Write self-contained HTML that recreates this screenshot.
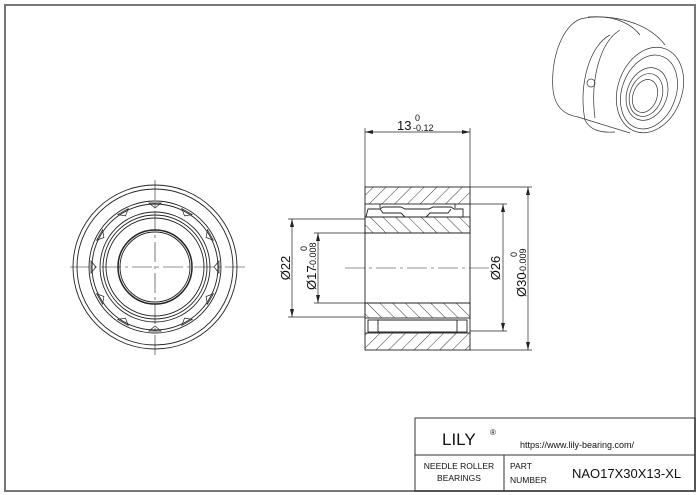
<!DOCTYPE html>
<html><head><meta charset="utf-8"><style>
html,body{margin:0;padding:0;background:#fff}
svg{display:block}
text{font-family:"Liberation Sans",Arial,sans-serif;fill:#111}
</style></head><body>
<svg width="700" height="495" viewBox="0 0 700 495" xmlns="http://www.w3.org/2000/svg">
<defs>
<pattern id="h1" patternUnits="userSpaceOnUse" width="9" height="9" patternTransform="rotate(45)">
<line x1="0" y1="0" x2="0" y2="9" stroke="#222" stroke-width="0.9"/></pattern>
<pattern id="h2" patternUnits="userSpaceOnUse" width="9" height="9" patternTransform="rotate(-45)">
<line x1="0" y1="0" x2="0" y2="9" stroke="#222" stroke-width="0.9"/></pattern>
</defs>
<rect x="5" y="5" width="690" height="486" fill="none" stroke="#777" stroke-width="2"/>

<!-- left view -->
<g fill="none" stroke="#222" stroke-width="0.9">
<circle cx="155" cy="267" r="82"/>
<circle cx="155" cy="267" r="78"/>
<circle cx="155" cy="267" r="66"/>
<circle cx="155" cy="267" r="63"/>
<circle cx="155" cy="267" r="55"/>
<circle cx="155" cy="267" r="52"/>
<circle cx="155" cy="267" r="49"/>
<circle cx="155" cy="267" r="37" stroke-width="1.5"/>
<circle cx="155" cy="267" r="35"/>
<g stroke-width="0.7">
<path d="M155 208 l-6 -5 h12 z" transform="rotate(0 155 267)"/>
<path d="M155 208 l-6 -5 h12 z" transform="rotate(30 155 267)"/>
<path d="M155 208 l-6 -5 h12 z" transform="rotate(60 155 267)"/>
<path d="M155 208 l-6 -5 h12 z" transform="rotate(90 155 267)"/>
<path d="M155 208 l-6 -5 h12 z" transform="rotate(120 155 267)"/>
<path d="M155 208 l-6 -5 h12 z" transform="rotate(150 155 267)"/>
<path d="M155 208 l-6 -5 h12 z" transform="rotate(180 155 267)"/>
<path d="M155 208 l-6 -5 h12 z" transform="rotate(210 155 267)"/>
<path d="M155 208 l-6 -5 h12 z" transform="rotate(240 155 267)"/>
<path d="M155 208 l-6 -5 h12 z" transform="rotate(270 155 267)"/>
<path d="M155 208 l-6 -5 h12 z" transform="rotate(300 155 267)"/>
<path d="M155 208 l-6 -5 h12 z" transform="rotate(330 155 267)"/>
</g>
<line x1="70" y1="267" x2="245" y2="267" stroke-width="0.6" stroke-dasharray="20,4,3,4"/>
<line x1="155" y1="180" x2="155" y2="355" stroke-width="0.6" stroke-dasharray="20,4,3,4"/>
</g>

<!-- section view -->
<g stroke="#222" stroke-width="0.9">
<rect x="365" y="187" width="105" height="17" fill="url(#h1)"/>
<rect x="365" y="333" width="105" height="17" fill="url(#h1)"/>
<rect x="365" y="217" width="105" height="16" fill="url(#h2)"/>
<rect x="365" y="303" width="105" height="15" fill="url(#h2)"/>
<path d="M368 209 h12 l3 -2 h18 l4 2 h24 l4 -2 h18 l3 2 h9 v8 h-97 z M380 209 l3 4 h18 l4 4 M451 209 l-3 4 h-18 l-4 4" fill="none"/>
<line x1="380" y1="204" x2="380" y2="208"/><line x1="455" y1="204" x2="455" y2="208"/>
<rect x="368" y="320" width="10" height="12" fill="none"/>
<rect x="457" y="320" width="10" height="12" fill="none"/>
<line x1="378" y1="320" x2="457" y2="320"/><line x1="378" y1="332" x2="457" y2="332"/>
<line x1="365" y1="204" x2="365" y2="333" fill="none"/>
<line x1="470" y1="204" x2="470" y2="333"/>
<line x1="365" y1="233" x2="470" y2="233"/>
<line x1="365" y1="303" x2="470" y2="303"/>
<line x1="345" y1="268" x2="490" y2="268" stroke-width="0.6" stroke-dasharray="20,4,3,4"/>
</g>

<!-- dimensions -->
<g stroke="#222" stroke-width="0.7" fill="none">
<line x1="365" y1="128" x2="365" y2="187"/><line x1="470" y1="128" x2="470" y2="187"/>
<line x1="365" y1="132" x2="470" y2="132"/>
<line x1="288" y1="219" x2="365" y2="219"/><line x1="288" y1="317" x2="365" y2="317"/>
<line x1="292" y1="219" x2="292" y2="317"/>
<line x1="314" y1="233" x2="365" y2="233"/><line x1="314" y1="303" x2="365" y2="303"/>
<line x1="318" y1="233" x2="318" y2="303"/>
<line x1="470" y1="204" x2="507" y2="204"/><line x1="470" y1="331" x2="507" y2="331"/>
<line x1="503" y1="204" x2="503" y2="331"/>
<line x1="470" y1="187" x2="532" y2="187"/><line x1="470" y1="350" x2="532" y2="350"/>
<line x1="528" y1="187" x2="528" y2="350"/>
</g>
<g fill="#222">
<path d="M365 132 l8 -2 v4z"/><path d="M470 132 l-8 -2 v4z"/>
<path d="M292 219 l-2 8 h4z"/><path d="M292 317 l-2 -8 h4z"/>
<path d="M318 233 l-2 8 h4z"/><path d="M318 303 l-2 -8 h4z"/>
<path d="M503 204 l-2 8 h4z"/><path d="M503 331 l-2 -8 h4z"/>
<path d="M528 187 l-2 8 h4z"/><path d="M528 350 l-2 -8 h4z"/>
</g>
<text x="397" y="130" font-size="13">13</text>
<text x="413" y="131" font-size="9">-0.12</text>
<text x="415" y="121" font-size="9">0</text>
<text transform="translate(290,268) rotate(-90)" font-size="13" text-anchor="middle">Ø22</text>
<text transform="translate(316,290) rotate(-90)" font-size="13">Ø17</text>
<text transform="translate(316,268) rotate(-90)" font-size="9">-0.008</text>
<text transform="translate(307,251) rotate(-90)" font-size="9">0</text>
<text transform="translate(500,268) rotate(-90)" font-size="13" text-anchor="middle">Ø26</text>
<text transform="translate(526,297) rotate(-90)" font-size="13">Ø30</text>
<text transform="translate(526,274) rotate(-90)" font-size="9">-0.009</text>
<text transform="translate(517,257) rotate(-90)" font-size="9">0</text>

<!-- 3D view -->
<g fill="none" stroke="#333" stroke-width="0.7">
<path d="M585 18 C565 20 550 55 553 90 C555 108 565 115 578 117"/>
<path d="M585 18 C610 14 630 22 640 35"/>
<path d="M588 17 C620 15 650 25 665 45"/>
<ellipse cx="650" cy="90" rx="32" ry="44" transform="rotate(20 650 90)"/>
<ellipse cx="649" cy="92" rx="27" ry="38" transform="rotate(20 649 92)"/>
<ellipse cx="647" cy="94" rx="20" ry="27" transform="rotate(20 647 94)"/>
<ellipse cx="646" cy="95" rx="16" ry="22" transform="rotate(20 646 95)"/>
<ellipse cx="645" cy="96" rx="12" ry="17" transform="rotate(20 645 96)"/>
<path d="M610 35 C590 45 578 85 585 120 C590 130 600 133 615 132"/>
<path d="M620 30 C600 42 590 80 595 118"/>
<path d="M578 117 L630 133"/>
<circle cx="591" cy="83" r="4"/>
</g>

<!-- title block -->
<g fill="none" stroke="#333" stroke-width="1">
<rect x="415" y="418" width="280" height="73"/>
<line x1="415" y1="455" x2="695" y2="455"/>
<line x1="504" y1="455" x2="504" y2="491"/>
</g>
<text x="442" y="445" font-size="17">LILY</text>
<text x="490" y="435" font-size="8">®</text>
<text x="520" y="448" font-size="9">https://www.lily-bearing.com/</text>
<text x="459" y="469" font-size="8.5" text-anchor="middle">NEEDLE ROLLER</text>
<text x="459" y="481" font-size="8.5" text-anchor="middle">BEARINGS</text>
<text x="510" y="469" font-size="8.5">PART</text>
<text x="510" y="483" font-size="8.5">NUMBER</text>
<text x="572" y="478" font-size="13">NAO17X30X13-XL</text>
</svg>
</body></html>
